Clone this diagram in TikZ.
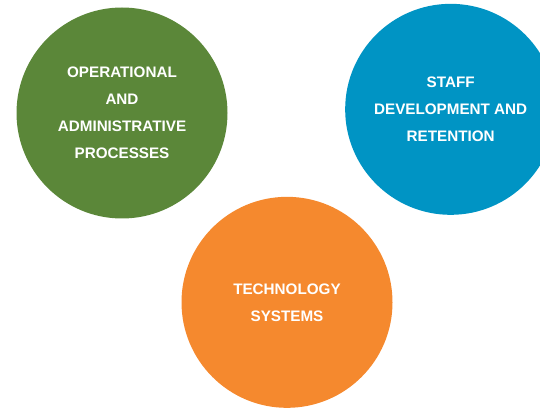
\documentclass[tikz,border=0pt]{standalone}
\usepackage{fontspec}
\setmainfont{Liberation Sans}
\usetikzlibrary{positioning}
\definecolor{opsgreen}{RGB}{91,135,57}
\definecolor{staffblue}{RGB}{0,148,196}
\definecolor{techorange}{RGB}{245,137,46}
\tikzset{
	bubble/.style={circle, minimum size=6.33cm, inner sep=0pt, text=white,
		align=center, font=\fontsize{13}{23}\selectfont\bfseries}
}

\begin{document}
\begin{tikzpicture}
			%%%%% START %%%%%
			
			\useasboundingbox (0, 0) rectangle (16.2, 12.24);
			
			\node[bubble, fill=opsgreen] (ops) at (3.66, 8.85) {OPERATIONAL\\AND\\ADMINISTRATIVE\\PROCESSES};
			
			\node[bubble, fill=staffblue] (staff) at (13.52, 8.96) {STAFF\\DEVELOPMENT AND\\RETENTION};
			
			\node[bubble, fill=techorange] (tech) at (8.61, 3.17) {TECHNOLOGY\\SYSTEMS};
			
			%%%%% END %%%%%
		\end{tikzpicture}
\end{document}
